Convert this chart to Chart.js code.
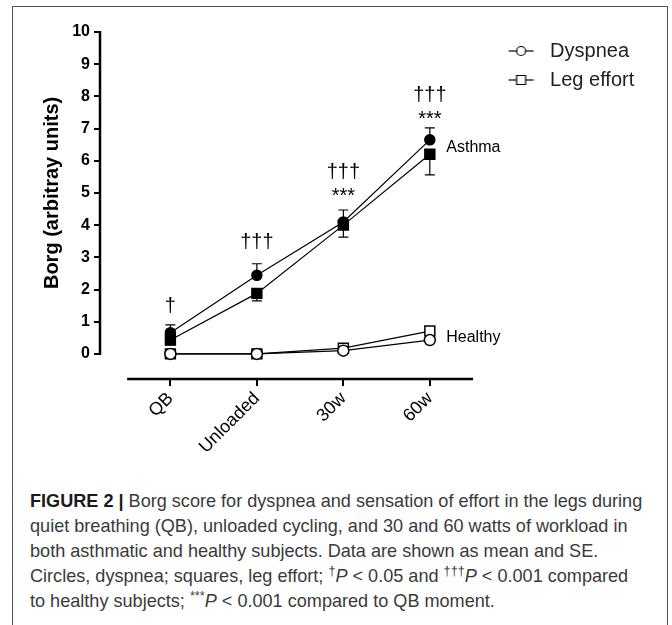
<!DOCTYPE html>
<html>
<head>
<meta charset="utf-8">
<script src="https://cdn.jsdelivr.net/npm/chart.js@4.4.0/dist/chart.umd.min.js"></script>
<style>
  html, body { margin: 0; padding: 0; background: #fff; }
  #page { position: relative; width: 672px; height: 625px; overflow: hidden; }
  #frame { position: absolute; left: 12px; top: 6px; width: 654px; height: 700px; border: 1px solid #555; border-bottom: none; }
  #chartBox { position: absolute; left: 0; top: 0; width: 672px; height: 470px; }
  #caption { position: absolute; left: 30px; top: 489px; font: 18.1px "Liberation Sans", Arial, sans-serif; line-height: 25px; color: #3a3a3a; white-space: nowrap; }
  #caption b { color: #1a1a1a; }
  #caption sup { font-size: 0.7em; line-height: 0; vertical-align: 0.55em; }
</style>
</head>
<body>
<div id="page">
  <div id="frame"></div>
  <div id="chartBox"><canvas id="borgChart" width="672" height="470"></canvas></div>
  <div id="caption">
    <b>FIGURE 2 |</b> Borg score for dyspnea and sensation of effort in the legs during<br>
    quiet breathing (QB), unloaded cycling, and 30 and 60 watts of workload in<br>
    both asthmatic and healthy subjects. Data are shown as mean and SE.<br>
    Circles, dyspnea; squares, leg effort; <sup>†</sup><i>P</i> &lt; 0.05 and <sup>†††</sup><i>P</i> &lt; 0.001 compared<br>
    to healthy subjects; <sup>***</sup><i>P</i> &lt; 0.001 compared to QB moment.
  </div>
</div>
<script>
const FONT = '"Liberation Sans", Arial, Helvetica, sans-serif';

// exercise stages
const categories = ['QB', 'Unloaded', '30w', '60w'];
const yTicks = [0, 1, 2, 3, 4, 5, 6, 7, 8, 9, 10];

// Borg scores, mean and SE
const asthmaDyspnea = [0.66, 2.44, 4.10, 6.65];
const asthmaDyspneaSE = [0.24, 0.36, 0.37, 0.37];
const asthmaLeg = [0.43, 1.88, 4.00, 6.20];
const asthmaLegSE = [0.15, 0.23, 0.37, 0.64];
const healthyDyspnea = [0, 0, 0.10, 0.43];
const healthyLeg = [0, 0, 0.18, 0.71];

const legendLabels = ['Dyspnea', 'Leg effort'];
const groupLabels = ['Asthma', 'Healthy'];

// significance: daggers vs healthy, asterisks vs QB
const daggerMarks = ['†', '†††', '†††', '†††'];
const starMarks = ['', '', '***', '***'];

// where the marks sit (baseline, in Borg units)
const daggerAt = [1.31, 3.28, 5.46, 7.86];
const starAt = [0, 0, 4.72, 7.11];
const groupAt = [[3.19, 6.40], [3.19, 0.52]];

function pts(arr) {
  return arr.map((v, i) => ({ x: i, y: v }));
}

// legend marker: short line with an open symbol, drawn at the right of the box
function legendIcon(shape) {
  const c = document.createElement('canvas');
  c.width = 48; c.height = 14;
  const g = c.getContext('2d');
  g.strokeStyle = '#000';
  g.lineWidth = 1.2;
  g.beginPath(); g.moveTo(21, 7); g.lineTo(46, 7); g.stroke();
  g.fillStyle = '#fff';
  g.beginPath();
  if (shape === 'circle') g.arc(33.5, 7, 4.5, 0, Math.PI * 2);
  else g.rect(29, 2.5, 9, 9);
  g.fill(); g.stroke();
  return c;
}
const icons = [legendIcon('circle'), legendIcon('rect')];

// legend box width so the plot ends at the same place every time
const mctx = document.createElement('canvas').getContext('2d');
mctx.font = '20px ' + FONT;
const legendTextW = Math.max(...legendLabels.map(t => mctx.measureText(t).width));
const legendW = 9 + 57 + 10 + legendTextW;

const overlay = {
  id: 'overlay',
  afterLayout(chart) {
    // let the legend text run past its box instead of being clipped
    chart.legend.right += 30;
    chart.legend.width += 30;
  },
  beforeDatasetsDraw(chart) {
    const { ctx } = chart;
    const x = chart.scales.x, y = chart.scales.y;
    ctx.save();
    ctx.strokeStyle = '#000';
    // axes
    ctx.lineWidth = 2.5;
    ctx.beginPath();
    ctx.moveTo(x.left, y.getPixelForValue(10) - 1);
    ctx.lineTo(x.left, y.getPixelForValue(0) + 1);
    ctx.moveTo(x.getPixelForValue(-0.5), y.bottom);
    ctx.lineTo(x.getPixelForValue(3.5), y.bottom);
    ctx.stroke();
    // error bars: dyspnea upward, leg effort downward
    ctx.lineWidth = 1.2;
    categories.forEach((c, i) => {
      const px = x.getPixelForValue(i);
      [[asthmaDyspnea[i], asthmaDyspnea[i] + asthmaDyspneaSE[i]],
       [asthmaLeg[i], asthmaLeg[i] - asthmaLegSE[i]]].forEach(([m, e]) => {
        const p0 = y.getPixelForValue(m), p1 = y.getPixelForValue(e);
        ctx.beginPath();
        ctx.moveTo(px, p0); ctx.lineTo(px, p1);
        ctx.moveTo(px - 5, p1); ctx.lineTo(px + 5, p1);
        ctx.stroke();
      });
    });
    ctx.restore();
  },
  afterDraw(chart) {
    const { ctx } = chart;
    const x = chart.scales.x, y = chart.scales.y;
    ctx.save();
    ctx.fillStyle = '#000';
    // y title
    ctx.save();
    ctx.translate(52, (y.getPixelForValue(0) + y.getPixelForValue(10)) / 2);
    ctx.rotate(-Math.PI / 2);
    ctx.font = 'bold 20px ' + FONT;
    ctx.textAlign = 'center';
    ctx.textBaseline = 'middle';
    ctx.fillText('Borg (arbitray units)', 0, 0);
    ctx.restore();
    // significance marks
    ctx.font = '20px ' + FONT;
    ctx.textAlign = 'center';
    ctx.textBaseline = 'alphabetic';
    categories.forEach((c, i) => {
      const px = x.getPixelForValue(i);
      if (daggerMarks[i]) ctx.fillText(daggerMarks[i], px, y.getPixelForValue(daggerAt[i]));
      if (starMarks[i]) ctx.fillText(starMarks[i], px, y.getPixelForValue(starAt[i]));
    });
    // group names
    ctx.font = '16px ' + FONT;
    ctx.textAlign = 'left';
    ctx.textBaseline = 'middle';
    groupLabels.forEach((t, i) => {
      ctx.fillText(t, x.getPixelForValue(groupAt[i][0]), y.getPixelForValue(groupAt[i][1]));
    });
    ctx.restore();
  }
};

const lineStyle = { borderColor: '#000', borderWidth: 1.2, tension: 0, pointBorderWidth: 1.5, pointBorderColor: '#000' };

new Chart(document.getElementById('borgChart'), {
  type: 'line',
  data: {
    datasets: [
      Object.assign({ label: 'Healthy dyspnea', data: pts(healthyDyspnea), pointStyle: 'circle', pointRadius: 5.5, pointBackgroundColor: '#fff' }, lineStyle),
      Object.assign({ label: 'Healthy leg effort', data: pts(healthyLeg), pointStyle: 'rect', pointRadius: 7, pointBackgroundColor: '#fff' }, lineStyle),
      Object.assign({ label: 'Asthma dyspnea', data: pts(asthmaDyspnea), pointStyle: 'circle', pointRadius: 5, pointBackgroundColor: '#000' }, lineStyle),
      Object.assign({ label: 'Asthma leg effort', data: pts(asthmaLeg), pointStyle: 'rect', pointRadius: 7, pointBackgroundColor: '#000' }, lineStyle)
    ]
  },
  options: {
    responsive: false,
    animation: false,
    events: [],
    layout: { padding: { top: 32, left: 0, bottom: 0, right: 672 - 472 - legendW } },
    scales: {
      x: {
        type: 'linear',
        min: -0.814,
        max: 3.512,
        afterBuildTicks: s => { s.ticks = categories.map((c, i) => ({ value: i })); },
        afterFit: s => { s.height = 91; },
        ticks: {
          autoSkip: false,
          minRotation: 45,
          maxRotation: 45,
          padding: 2,
          color: '#000',
          font: { family: FONT, size: 18 },
          callback: v => categories[v]
        },
        grid: { drawOnChartArea: false, drawTicks: true, tickLength: 7, color: '#000', lineWidth: 2 },
        border: { display: false }
      },
      y: {
        min: -0.78,
        max: 10,
        afterBuildTicks: s => { s.ticks = yTicks.map(v => ({ value: v })); },
        afterFit: s => { s.width = 100; },
        ticks: {
          padding: 4,
          color: '#000',
          font: { family: FONT, size: 16, weight: 'bold' }
        },
        grid: { drawOnChartArea: false, drawTicks: true, tickLength: 6, color: '#000', lineWidth: 2 },
        border: { display: false }
      }
    },
    plugins: {
      tooltip: { enabled: false },
      legend: {
        position: 'right',
        align: 'start',
        labels: {
          usePointStyle: true,
          pointStyleWidth: 57,
          padding: 9,
          color: '#222',
          font: { family: FONT, size: 20 },
          generateLabels: () => legendLabels.map((t, i) => ({
            text: t, pointStyle: icons[i], fillStyle: '#fff', strokeStyle: '#000',
            lineWidth: 0, hidden: false, datasetIndex: i, fontColor: '#222'
          }))
        }
      }
    }
  },
  plugins: [overlay]
});
</script>
</body>
</html>
